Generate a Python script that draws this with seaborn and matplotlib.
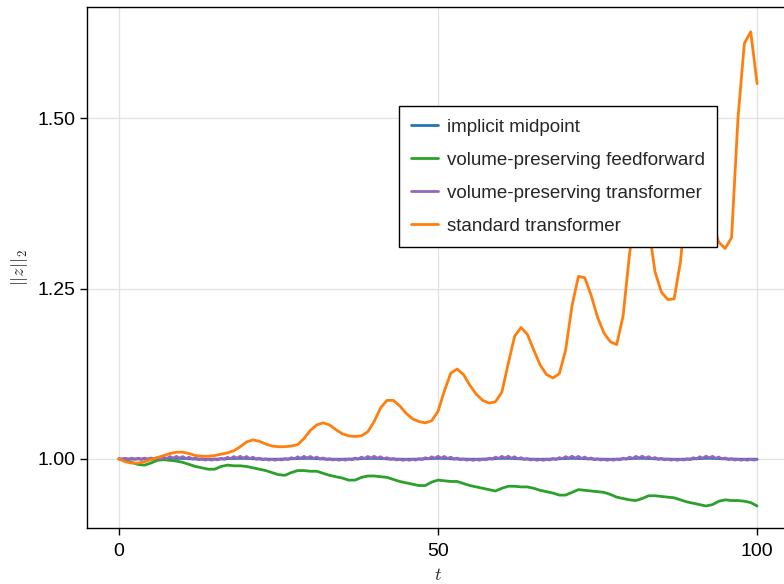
import numpy as np
import pandas as pd
import seaborn as sns
import matplotlib.pyplot as plt

# time grid (unit steps) and half-step grid for the fast-oscillating series
t = list(range(0, 101))

implicit_midpoint = [
    1.0000, 1.0000, 1.0000, 1.0000, 1.0000, 1.0000, 1.0002, 1.0005, 1.0008, 1.0010,
    1.0008, 1.0004, 1.0000, 0.9998, 0.9997, 0.9998, 1.0000, 1.0004, 1.0008, 1.0010,
    1.0009, 1.0004, 1.0000, 0.9998, 0.9997, 0.9997, 0.9999, 1.0003, 1.0007, 1.0010,
    1.0010, 1.0005, 1.0001, 0.9998, 0.9997, 0.9997, 0.9998, 1.0001, 1.0006, 1.0009,
    1.0010, 1.0007, 1.0002, 0.9999, 0.9997, 0.9996, 0.9997, 0.9999, 1.0003, 1.0008,
    1.0010, 1.0009, 1.0004, 1.0000, 0.9998, 0.9997, 0.9996, 0.9998, 1.0001, 1.0006,
    1.0010, 1.0010, 1.0007, 1.0002, 0.9999, 0.9997, 0.9996, 0.9997, 0.9999, 1.0003,
    1.0008, 1.0010, 1.0009, 1.0005, 1.0001, 0.9998, 0.9997, 0.9996, 0.9997, 1.0001,
    1.0006, 1.0010, 1.0011, 1.0008, 1.0003, 1.0000, 0.9998, 0.9996, 0.9996, 0.9998,
    1.0002, 1.0007, 1.0011, 1.0010, 1.0006, 1.0002, 0.9999, 0.9997, 0.9996, 0.9997,
    0.9997,
]

vp_feedforward = [
    1.000, 0.998, 0.995, 0.992, 0.991, 0.994, 0.998, 0.999, 0.998, 0.997,
    0.995, 0.992, 0.989, 0.987, 0.985, 0.985, 0.989, 0.991, 0.990, 0.990,
    0.989, 0.987, 0.985, 0.983, 0.980, 0.977, 0.976, 0.980, 0.983, 0.983,
    0.982, 0.982, 0.979, 0.976, 0.974, 0.972, 0.969, 0.969, 0.973, 0.975,
    0.975, 0.974, 0.973, 0.970, 0.967, 0.965, 0.963, 0.961, 0.961, 0.966,
    0.969, 0.968, 0.967, 0.967, 0.964, 0.961, 0.959, 0.957, 0.955, 0.953,
    0.957, 0.960, 0.960, 0.959, 0.959, 0.957, 0.954, 0.952, 0.950, 0.947,
    0.947, 0.951, 0.955, 0.954, 0.953, 0.952, 0.951, 0.948, 0.944, 0.942,
    0.940, 0.939, 0.942, 0.946, 0.946, 0.945, 0.944, 0.943, 0.940, 0.937,
    0.935, 0.933, 0.931, 0.933, 0.938, 0.940, 0.939, 0.939, 0.938, 0.936,
    0.931,
]

# volume-preserving transformer: tooth tops at whole t, tooth bottoms at half t
vp_transformer_top = [
    1.0005, 1.0010, 1.0012, 1.0012, 1.0013, 1.0015, 1.0020, 1.0028, 1.0035, 1.0038,
    1.0035, 1.0026, 1.0014, 1.0002, 0.9997, 0.9999, 1.0009, 1.0024, 1.0035, 1.0039,
    1.0036, 1.0026, 1.0013, 1.0002, 0.9996, 0.9997, 1.0005, 1.0019, 1.0031, 1.0038,
    1.0037, 1.0028, 1.0015, 1.0003, 0.9996, 0.9995, 1.0001, 1.0013, 1.0027, 1.0037,
    1.0039, 1.0032, 1.0019, 1.0006, 0.9997, 0.9994, 0.9995, 1.0003, 1.0018, 1.0031,
    1.0039, 1.0037, 1.0026, 1.0013, 1.0001, 0.9995, 0.9994, 0.9999, 1.0012, 1.0027,
    1.0038, 1.0040, 1.0032, 1.0019, 1.0006, 0.9997, 0.9994, 0.9996, 1.0006, 1.0020,
    1.0034, 1.0040, 1.0038, 1.0028, 1.0015, 1.0003, 0.9996, 0.9994, 0.9998, 1.0012,
    1.0027, 1.0038, 1.0041, 1.0034, 1.0021, 1.0009, 0.9999, 0.9995, 0.9995, 1.0003,
    1.0018, 1.0032, 1.0041, 1.0039, 1.0028, 1.0015, 1.0004, 0.9997, 0.9995, 0.9997,
    0.9993,
]
vp_transformer_bottom = [
    0.9995, 0.9993, 0.9994, 0.9994, 0.9995, 0.9997, 1.0001, 1.0007, 1.0012, 1.0012,
    1.0006, 0.9998, 0.9990, 0.9984, 0.9983, 0.9987, 0.9995, 1.0005, 1.0012, 1.0012,
    1.0006, 0.9997, 0.9989, 0.9984, 0.9982, 0.9985, 0.9992, 1.0002, 1.0010, 1.0013,
    1.0008, 0.9999, 0.9990, 0.9985, 0.9982, 0.9983, 0.9988, 0.9997, 1.0008, 1.0013,
    1.0011, 1.0003, 0.9994, 0.9986, 0.9981, 0.9981, 0.9984, 0.9992, 1.0001, 1.0011,
    1.0013, 1.0007, 0.9997, 0.9988, 0.9983, 0.9980, 0.9982, 0.9988, 0.9997, 1.0008,
    1.0014, 1.0011, 1.0002, 0.9992, 0.9985, 0.9981, 0.9981, 0.9985, 0.9992, 1.0003,
    1.0012, 1.0014, 1.0008, 0.9998, 0.9989, 0.9984, 0.9981, 0.9982, 0.9987, 0.9996,
    1.0008, 1.0014, 1.0013, 1.0004, 0.9994, 0.9987, 0.9983, 0.9981, 0.9984, 0.9990,
    1.0001, 1.0012, 1.0015, 1.0010, 1.0000, 0.9990, 0.9984, 0.9982, 0.9982, 0.9984,
]

standard_transformer = [
    1.000, 0.996, 0.994, 0.994, 0.996, 0.999, 1.002, 1.005, 1.008, 1.010,
    1.010, 1.008, 1.005, 1.004, 1.004, 1.005, 1.007, 1.009, 1.012, 1.018,
    1.025, 1.028, 1.026, 1.022, 1.019, 1.018, 1.018, 1.019, 1.021, 1.030,
    1.042, 1.050, 1.053, 1.050, 1.043, 1.037, 1.034, 1.033, 1.034, 1.040,
    1.055, 1.075, 1.086, 1.086, 1.078, 1.067, 1.059, 1.055, 1.053, 1.056,
    1.070, 1.100, 1.126, 1.132, 1.124, 1.108, 1.095, 1.086, 1.082, 1.084,
    1.098, 1.140, 1.180, 1.193, 1.183, 1.160, 1.138, 1.124, 1.119, 1.125,
    1.160, 1.225, 1.268, 1.266, 1.240, 1.208, 1.185, 1.172, 1.168, 1.210,
    1.300, 1.375, 1.400, 1.340, 1.275, 1.245, 1.234, 1.235, 1.290, 1.390,
    1.450, 1.455, 1.410, 1.345, 1.318, 1.309, 1.325, 1.500, 1.610, 1.627,
    1.551,
]

# interleave tops (t = 0, 1, ...) and bottoms (t = 0.5, 1.5, ...)
t_half = []
vp_transformer = []
for i in range(len(vp_transformer_top)):
    t_half.append(float(i))
    vp_transformer.append(vp_transformer_top[i])
    if i < len(vp_transformer_bottom):
        t_half.append(i + 0.5)
        vp_transformer.append(vp_transformer_bottom[i])

sns.set_theme(style="white")
plt.rcParams["font.family"] = ["Liberation Sans", "DejaVu Sans"]
plt.rcParams["mathtext.fontset"] = "cm"

fig = plt.figure(figsize=(7.84, 5.84), dpi=100)
ax = fig.add_axes([0.111, 0.0959, 0.8954, 0.8916])

lw = 2.0
sns.lineplot(x=t, y=implicit_midpoint, color="#1f77b4", lw=lw, label="implicit midpoint", ax=ax)
sns.lineplot(x=t, y=vp_feedforward, color="#2ca02c", lw=lw, label="volume-preserving feedforward", ax=ax)
sns.lineplot(x=t_half, y=vp_transformer, color="#9467bd", lw=lw, label="volume-preserving transformer", ax=ax)
sns.lineplot(x=t, y=standard_transformer, color="#ff7f0e", lw=lw, label="standard transformer", ax=ax)

ax.set_xlim(-5, 105)
ax.set_ylim(0.8987, 1.663)
ax.set_xticks([0, 50, 100])
ax.set_yticks([1.00, 1.25, 1.50])
ax.set_yticklabels(["1.00", "1.25", "1.50"])
ax.grid(True, color="#e2e2e2", lw=0.9)
ax.set_axisbelow(True)
for s in ax.spines.values():
    s.set_color("black")
    s.set_linewidth(1.0)
ax.tick_params(axis="both", direction="out", length=5, width=1, colors="black",
               labelsize=14, pad=3, left=True, bottom=True, top=False, right=False)
ax.tick_params(axis="x", pad=6)

ax.set_xlabel("$t$", fontsize=13, labelpad=5)
ax.set_ylabel("$||z||_2$", fontsize=13, labelpad=6)

handles, labels = ax.get_legend_handles_labels()
leg = ax.legend(handles, labels, loc="upper left", bbox_to_anchor=(0.444, 0.810),
                borderaxespad=0, frameon=True, fancybox=False, framealpha=1,
                edgecolor="black", fontsize=13.5, handlelength=1.45,
                handletextpad=0.45, labelspacing=0.85, borderpad=0.66)
leg.get_frame().set_linewidth(1.0)

plt.savefig("out.png", dpi=100)
plt.close()
